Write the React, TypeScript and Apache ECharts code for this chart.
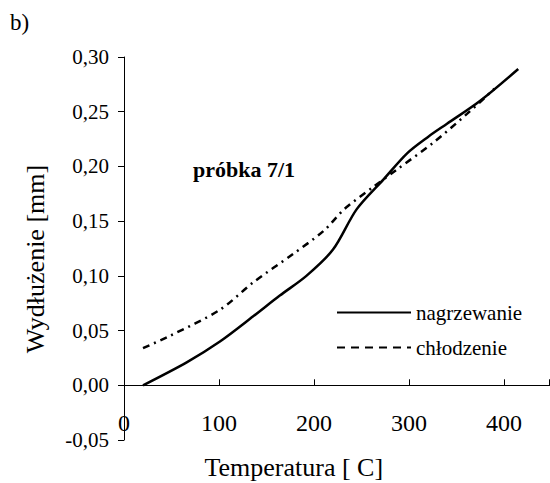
import React, { useEffect, useRef } from "react";
import * as echarts from "echarts";

const heatT = [20, 66, 101, 136, 164, 192, 220, 245, 273, 298, 320, 340, 375, 415];
const heatE = [0.0, 0.021, 0.04, 0.063, 0.082, 0.1, 0.124, 0.161, 0.188, 0.212, 0.227, 0.239, 0.26, 0.289];
const coolT = [20, 48, 101, 136, 178, 210, 232, 262, 287, 326, 361, 390];
const coolE = [0.034, 0.045, 0.069, 0.094, 0.12, 0.141, 0.161, 0.181, 0.197, 0.222, 0.248, 0.271];
const xTicks = [0, 100, 200, 300, 400];
const yTicks = [-0.05, 0, 0.05, 0.1, 0.15, 0.2, 0.25, 0.3];
const seriesNames = ["nagrzewanie", "chłodzenie"];
const xTitle = "Temperatura [ C]";
const yTitle = "Wydłużenie [mm]";

const FONT = "Liberation Serif";
const GRID_H = 383;
const Y_MIN = -0.05;
const Y_MAX = 0.3;

export default function App() {
  const ref = useRef<HTMLDivElement>(null);
  useEffect(() => {
    if (!ref.current) return;
    const chart = echarts.init(ref.current, undefined, { renderer: "svg" });
    // x axis line sits at y = 0: shift it up from the grid bottom by the height of the negative range
    const zeroOffset = -(GRID_H * (0 - Y_MIN)) / (Y_MAX - Y_MIN);
    chart.setOption({
      animation: false,
      backgroundColor: "#ffffff",
      textStyle: { fontFamily: FONT, color: "#000" },
      grid: {
        left: 124,
        top: 57,
        width: 425.6,
        height: GRID_H,
        containLabel: false,
        outerBoundsMode: "none",
      },
      xAxis: {
        type: "value",
        min: 0,
        max: 448,
        interval: 100,
        offset: zeroOffset,
        name: xTitle,
        nameLocation: "middle",
        nameGap: 69,
        nameTextStyle: { fontFamily: FONT, fontSize: 26, color: "#000", padding: [0, 86, 0, 0] },
        axisLine: { onZero: false, lineStyle: { color: "#000", width: 1 } },
        axisTick: { inside: true, length: 6, lineStyle: { color: "#000" } },
        axisLabel: {
          fontFamily: FONT,
          fontSize: 24,
          color: "#000",
          margin: 26,
          customValues: xTicks,
        },
        splitLine: { show: false },
      },
      yAxis: {
        type: "value",
        min: Y_MIN,
        max: Y_MAX,
        interval: 0.05,
        axisLine: { show: true, lineStyle: { color: "#000", width: 1 } },
        axisTick: { show: true, inside: false, length: 6, lineStyle: { color: "#000" } },
        axisLabel: {
          fontFamily: FONT,
          fontSize: 21,
          color: "#000",
          margin: 15,
          formatter: (v: number) => {
            const m = yTicks.find((t) => Math.abs(t - v) < 1e-9);
            return (m !== undefined ? m : v).toFixed(2).replace(".", ",");
          },
        },
        splitLine: { show: false },
      },
      legend: {
        orient: "vertical",
        left: 331,
        top: 297,
        itemWidth: 74,
        itemHeight: 14,
        itemGap: 14,
        itemStyle: { opacity: 0 },
        textStyle: { fontFamily: FONT, fontSize: 21, color: "#000" },
        data: [
          { name: seriesNames[0] },
          { name: seriesNames[1], lineStyle: { type: [8, 6] } },
        ],
      },
      graphic: [
        {
          type: "text",
          left: 10,
          top: 11,
          style: { text: "b)", font: `23px "${FONT}"`, fill: "#000" },
        },
        {
          type: "text",
          x: 35,
          y: 259,
          rotation: Math.PI / 2,
          style: {
            text: yTitle,
            font: `26px "${FONT}"`,
            fill: "#000",
            textAlign: "center",
            textVerticalAlign: "middle",
          },
        },
        {
          type: "text",
          x: 193,
          y: 169,
          style: {
            text: "próbka 7/1",
            font: `bold 22px "${FONT}"`,
            fill: "#000",
            textVerticalAlign: "middle",
          },
        },
      ],
      series: [
        {
          name: seriesNames[0],
          type: "line",
          data: heatT.map((t, i) => [t, heatE[i]]),
          smooth: 0.3,
          showSymbol: false,
          symbol: "none",
          lineStyle: { color: "#000", width: 2.5, type: "solid" },
          itemStyle: { color: "#000" },
        },
        {
          name: seriesNames[1],
          type: "line",
          data: coolT.map((t, i) => [t, coolE[i]]),
          smooth: 0.3,
          showSymbol: false,
          symbol: "none",
          lineStyle: { color: "#000", width: 2.5, type: [7, 5, 2, 5] },
          itemStyle: { color: "#000" },
        },
      ],
    });
    return () => chart.dispose();
  }, []);
  return <div ref={ref} style={{ width: 550, height: 483, position: "absolute", left: 0, top: 0 }} />;
}
